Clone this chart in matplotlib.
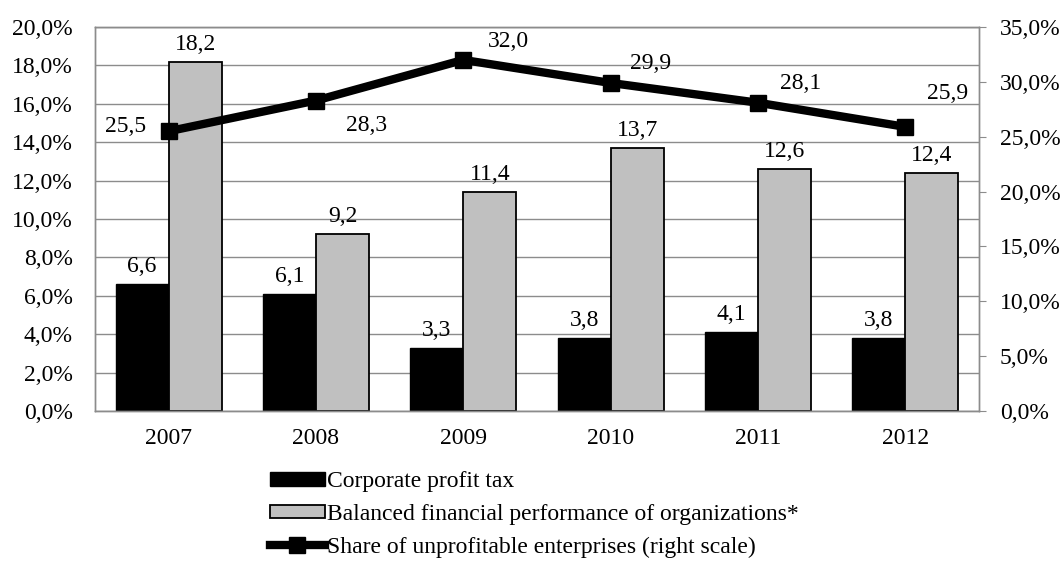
import matplotlib
matplotlib.use("Agg")
from matplotlib import pyplot as plt
from matplotlib.lines import Line2D
from matplotlib.patches import Patch
import numpy as np

years = ["2007", "2008", "2009", "2010", "2011", "2012"]
profit_tax = [6.6, 6.1, 3.3, 3.8, 4.1, 3.8]
balanced_result = [18.2, 9.2, 11.4, 13.7, 12.6, 12.4]
unprofitable_share = [25.5, 28.3, 32.0, 29.9, 28.1, 25.9]
# label offsets for the line values, in pixels
line_label_offsets = [(-43, 5), (51, -25), (45, 18), (40, 19), (43, 19), (42, 33)]

FS = 17
plt.rcParams['font.family'] = ['Liberation Serif', 'DejaVu Serif']
plt.rcParams['font.size'] = FS

fig = plt.figure(figsize=(10.64, 5.65), dpi=100)
ax = fig.add_axes([0.0893, 0.2726, 0.8307, 0.6796])
ax2 = ax.twinx()

x = np.arange(len(years))
w = 0.36
b1 = ax.bar(x - w / 2, profit_tax, w, color='black', edgecolor='black', linewidth=1, zorder=2)
b2 = ax.bar(x + w / 2, balanced_result, w, color='#c0c0c0', edgecolor='black', linewidth=1.3, zorder=2)
ax.bar_label(b1, labels=[f"{v:.1f}".replace('.', ',') for v in profit_tax], padding=5, fontsize=FS)
ax.bar_label(b2, labels=[f"{v:.1f}".replace('.', ',') for v in balanced_result], padding=5, fontsize=FS)

ax.set_xlim(-0.5, len(years) - 0.5)
ax.set_ylim(0, 20)
ax.set_yticks(np.arange(0, 20.1, 2))
ax.set_yticklabels([f"{v:.1f}%".replace('.', ',') for v in np.arange(0, 20.1, 2)])
ax.set_xticks(x)
ax.set_xticklabels(years)
ax.yaxis.grid(True, color='#8c8c8c', linewidth=1)
ax.set_axisbelow(True)
ax.tick_params(axis='y', length=0, labelsize=FS, pad=16)
ax.tick_params(axis='x', length=0, labelsize=FS, pad=12)

ax2.plot(x, unprofitable_share, color='black', linewidth=6, marker='s', markersize=11, zorder=3)
for xi, v, off in zip(x, unprofitable_share, line_label_offsets):
    ax2.annotate(f"{v:.1f}".replace('.', ','), xy=(xi, v), xytext=off,
                 textcoords='offset pixels', ha='center', va='center', fontsize=FS)
ax2.set_ylim(0, 35)
ax2.set_yticks(np.arange(0, 35.1, 5))
ax2.set_yticklabels([f"{v:.1f}%".replace('.', ',') for v in np.arange(0, 35.1, 5)])
ax2.tick_params(axis='y', length=5, color='#8c8c8c', labelsize=FS, pad=10)

for a in (ax, ax2):
    for s in a.spines.values():
        s.set_color('#8c8c8c')
        s.set_linewidth(1)
ax2.set_zorder(ax.get_zorder() + 1)
ax2.patch.set_visible(False)

handles = [
    Patch(facecolor='black', edgecolor='black'),
    Patch(facecolor='#c0c0c0', edgecolor='black', linewidth=1.3),
    Line2D([], [], color='black', linewidth=6, marker='s', markersize=11),
]
labels = ["Corporate profit tax",
          "Balanced financial performance of organizations*",
          "Share of unprofitable enterprises (right scale)"]
fig.legend(handles, labels, loc='upper left', bbox_to_anchor=(0.254, 0.166), frameon=False,
           fontsize=FS, handlelength=2.3, handleheight=0.5, handletextpad=0.1,
           labelspacing=0.5, borderpad=0, borderaxespad=0)

fig.savefig("out.png", dpi=100)
